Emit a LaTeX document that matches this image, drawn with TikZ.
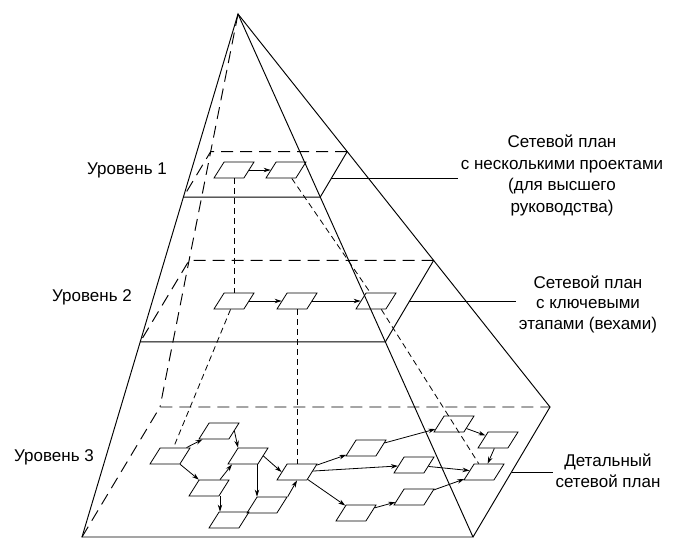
\documentclass[tikz,border=0pt]{standalone}
\usepackage{fontspec}
\setmainfont{Liberation Sans}
\usetikzlibrary{shapes.geometric,arrows.meta,calc}
\begin{document}
\begin{tikzpicture}[x=1pt, y=-1pt, line width=0.95pt,
		plan/.style={draw, trapezium, trapezium left angle=63, trapezium right angle=117,
			trapezium stretches=true, minimum width=40pt, minimum height=16pt, inner sep=1pt, line width=0.8pt},
		flow/.style={-{Stealth[length=7pt, width=4.5pt]}, line width=0.8pt},
		link/.style={dash pattern=on 6pt off 4pt, line width=0.8pt},
		hidden/.style={dash pattern=on 12pt off 7pt},
		note/.style={font=\fontsize{17}{20.5}\selectfont, align=center, inner sep=2pt}]
		\useasboundingbox (0,0) rectangle (674,552);
		\coordinate (top) at (238,14);
		\coordinate (fl) at (82,537);
		\coordinate (fr) at (473,537);
		\coordinate (br) at (550,407);
		\coordinate (bl) at (160,407);
		\draw (fl) -- (top) -- (fr) -- cycle;
		\draw (top) -- (br) -- (fr);
		\draw[hidden] (top) -- (bl);
		\draw[hidden] (fl) -- (bl) -- (br);
		\foreach \t/\n in {0.35/1, 0.627/2} {
			\coordinate (fl\n) at ($(top)!\t!(fl)$);
			\coordinate (fr\n) at ($(top)!\t!(fr)$);
			\coordinate (br\n) at ($(top)!\t!(br)$);
			\coordinate (bl\n) at ($(top)!\t!(bl)$);
			\draw (fl\n) -- (fr\n) -- (br\n);
			\draw[hidden] (br\n) -- (bl\n) -- (fl\n);
		}
		\coordinate (lead1) at ($(fr1)!0.4!(br1)$);
		\coordinate (lead2) at ($(fr2)!0.5!(br2)$);
		\coordinate (lead3) at ($(fr)!0.5!(br)$);
		\node[note] (lev1) at (127,170) {Уровень 1};
		\node[note] (lev2) at (92,297) {Уровень 2};
		\node[note] (lev3) at (54,457) {Уровень 3};
		\node[note, font=\fontsize{17}{21.5}\selectfont] (note1) at (562,175.5)
			{Сетевой план\\с несколькими проектами\\(для высшего\\руководства)};
		\node[note] (note2) at (588,304) {Сетевой план\\с ключевыми\\этапами (вехами)};
		\node[note] (note3) at (608,471) {Детальный\\сетевой план};
		\foreach \n in {1,2,3}
			\draw (lead\n) -- (lead\n -| note\n.west);
		\node[plan] (p1a) at (234,170) {};
		\node[plan] (p1b) at (286,170) {};
		\node[plan] (p2a) at (234,301) {};
		\node[plan] (p2b) at (297,301) {};
		\node[plan] (p2c) at (376,301) {};
		\node[plan] (a) at (170,456) {};
		\node[plan] (b) at (219,431) {};
		\node[plan] (c) at (248,456) {};
		\node[plan] (d) at (209,488) {};
		\node[plan] (e) at (229,520) {};
		\node[plan] (f) at (267,505) {};
		\node[plan] (h) at (297,472) {};
		\node[plan] (g1) at (366,448) {};
		\node[plan] (g2) at (414,465) {};
		\node[plan] (g3) at (356,513) {};
		\node[plan] (g4) at (414,497) {};
		\node[plan] (r1) at (454,424) {};
		\node[plan] (r2) at (498,440) {};
		\node[plan] (r3) at (484,472) {};
		\foreach \u/\v in {p1a/p1b, p2a/p2b, p2b/p2c, a/b, a/d, h/g1, g1/r1, h/g2, g2/r3,
				h/g3, g3/g4, g4/r3, r1/r2, r2/r3}
			\draw[flow] (\u) -- (\v);
		\draw[flow] (b.east) -- ([xshift=-10pt]c.north);
		\draw[flow] ([xshift=11pt]d.north) -- ([xshift=-16pt]c.south);
		\draw[flow] ([xshift=11pt]d.south) -- ([xshift=-9pt]e.north);
		\draw[flow] ([xshift=9pt]c.south) -- ([xshift=-10pt]f.north);
		\draw[flow] (c.east) -- (h.west);
		\draw[flow] (f.top right corner) -- (h.south);
		\foreach \u/\v in {p1a/p2a, p1b/p2c, p2a/a, p2b/h, p2c/r3}
			\draw[link] (\u) -- (\v);
	\end{tikzpicture}
\end{document}
